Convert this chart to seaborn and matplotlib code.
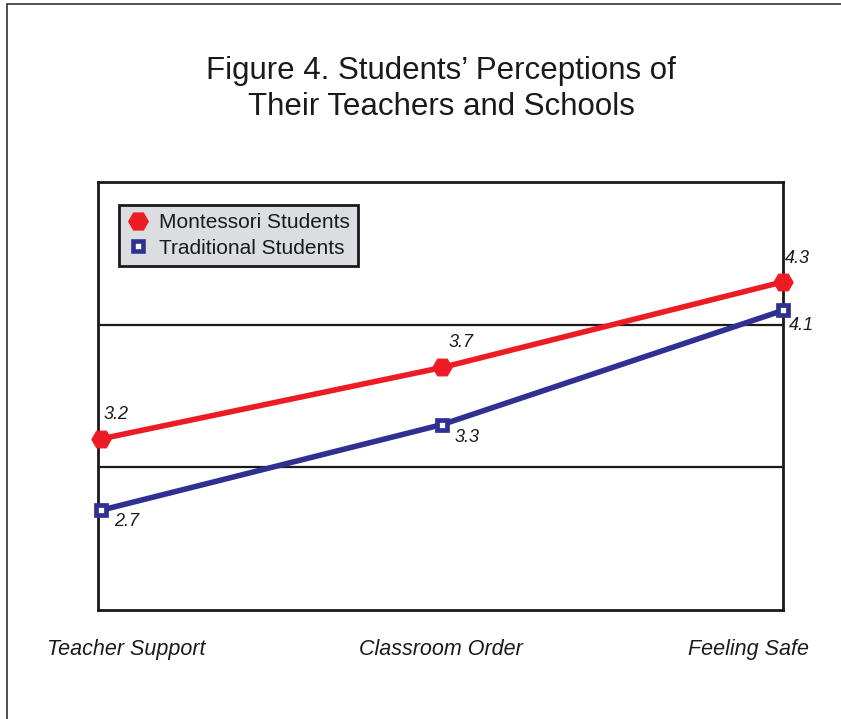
import matplotlib
matplotlib.use("Agg")
import matplotlib.pyplot as plt
import seaborn as sns
import pandas as pd
from matplotlib.patches import Rectangle
from matplotlib.lines import Line2D

categories = ["Teacher Support", "Classroom Order", "Feeling Safe"]
montessori = [3.2, 3.7, 4.3]
traditional = [2.7, 3.3, 4.1]
series_names = ["Montessori Students", "Traditional Students"]

red = "#ed1c24"
blue = "#2e3192"

sns.set_theme(style="white")
plt.rcParams["font.family"] = ["Liberation Sans", "DejaVu Sans"]

fig = plt.figure(figsize=(8.41, 7.19), dpi=100)
ax = fig.add_axes([98/841, 1-610/719, 685/841, 428/719])

df_m = pd.DataFrame({"x": range(len(categories)), "v": montessori})
df_t = pd.DataFrame({"x": range(len(categories)), "v": traditional})

sns.lineplot(data=df_m, x="x", y="v", ax=ax, color=red, lw=4, marker="H",
             markersize=14, markeredgecolor=red, markerfacecolor=red,
             clip_on=False, zorder=5)
sns.lineplot(data=df_t, x="x", y="v", ax=ax, color=blue, lw=4, marker="s",
             markersize=6.8, markeredgecolor=blue, markerfacecolor="white",
             markeredgewidth=3.4, clip_on=False, zorder=5)

ax.set_xlim(-0.01, 2)
ax.set_ylim(2, 5)
ax.set_xticks([])
ax.set_yticks([])
ax.set_xlabel("")
ax.set_ylabel("")
for y in (3, 4):
    ax.axhline(y, color="#1a1a1a", lw=1.6, zorder=1)
for s in ax.spines.values():
    s.set_color("#1a1a1a")
    s.set_linewidth(2)

# value labels
m_off = [(15, 24), (19, 25), (14, 23)]
t_off = [(25, -11), (25, -13), (18, -15)]
for i, v in enumerate(montessori):
    ax.annotate(f"{v}", (i, v), xytext=m_off[i], textcoords="offset pixels",
                ha="center", va="center", fontsize=13, style="italic",
                color="#1a1a1a", annotation_clip=False)
for i, v in enumerate(traditional):
    ax.annotate(f"{v}", (i, v), xytext=t_off[i], textcoords="offset pixels",
                ha="center", va="center", fontsize=13, style="italic",
                color="#1a1a1a", annotation_clip=False)

# category labels
cat_x = [126, 441, 749]
for cx, c in zip(cat_x, categories):
    fig.text(cx/841, 1-655/719, c, ha="center", va="baseline", fontsize=15.5,
             style="italic", color="#1a1a1a")

# legend
handles = [
    Line2D([], [], color=red, marker="H", markersize=14, lw=0,
           markerfacecolor=red, markeredgecolor=red),
    Line2D([], [], color=blue, marker="s", markersize=6.5, lw=0,
           markerfacecolor="white", markeredgecolor=blue, markeredgewidth=3.3),
]
leg = ax.legend(handles, series_names, loc="upper left",
                bbox_to_anchor=((119-98)/685, (610-205)/428),
                borderaxespad=0, fancybox=False, fontsize=15,
                handlelength=1.0, handletextpad=0.5, labelspacing=0.3,
                borderpad=0.4, frameon=True)
fr = leg.get_frame()
fr.set_facecolor("#dcdde0")
fr.set_edgecolor("#1a1a1a")
fr.set_linewidth(2)
fr.set_alpha(1)
for t in leg.get_texts():
    t.set_color("#1a1a1a")

# title
fig.text(441/841, 1-89/719,
         "Figure 4. Students\u2019 Perceptions of\nTheir Teachers and Schools",
         ha="center", va="center", fontsize=22.5, color="#1a1a1a",
         linespacing=1.3)

# page frame (top and left edges)
fig.patches.append(Rectangle((7/841, -0.1), 1.2, 1-4/719+0.1,
                             transform=fig.transFigure, fill=False,
                             edgecolor="#333333", lw=1.2))

fig.savefig("out.png", dpi=100)
